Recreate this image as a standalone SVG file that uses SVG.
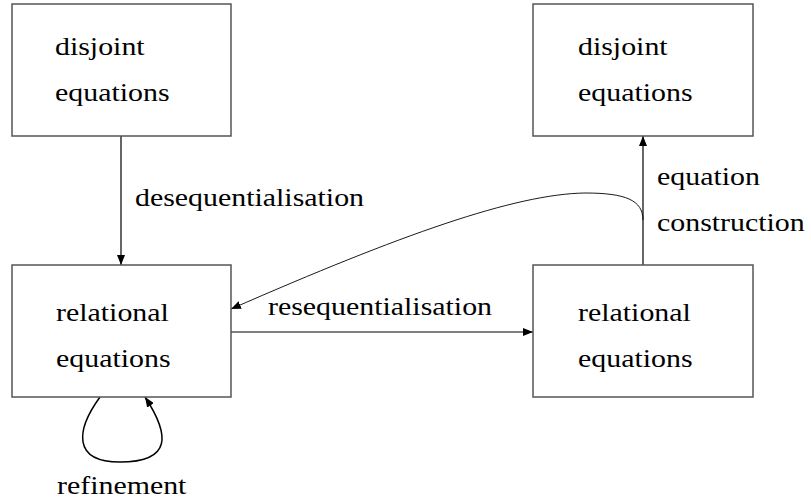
<svg xmlns="http://www.w3.org/2000/svg" width="811" height="500" viewBox="0 0 811 500">
  <style>
    .box { fill: #ffffff; stroke: #555555; stroke-width: 1.5; }
    text { font-family: "Liberation Serif", "Times New Roman", serif; font-size: 26px; fill: #000000; }
    .edge { fill: none; stroke: #000000; stroke-width: 1.2; }
    .thin { fill: none; stroke: #000000; stroke-width: 0.9; }
  </style>
  <defs>
    <marker id="arrow" viewBox="0 0 10 8" refX="10" refY="4" markerWidth="10" markerHeight="8" markerUnits="userSpaceOnUse" orient="auto">
      <path d="M0,0 L10,4 L0,8 Z" fill="#000000"/>
    </marker>
  </defs>

  <rect width="811" height="500" fill="#ffffff"/>

  <!-- connectors -->
  <g id="connectors">
    <!-- desequentialisation -->
    <line class="edge" x1="121" y1="136" x2="121" y2="265" marker-end="url(#arrow)"/>
    <!-- resequentialisation -->
    <line class="edge" x1="231" y1="332" x2="533" y2="332" marker-end="url(#arrow)"/>
    <!-- equation construction -->
    <line class="edge" x1="643" y1="265" x2="643" y2="136" marker-end="url(#arrow)"/>
    <!-- feedback curve back to the left relational box -->
    <path class="thin" d="M643,220 C643,200 625,193 585,193 C515,194 400,235 231,309" marker-end="url(#arrow)"/>
    <!-- refinement self-loop -->
    <path class="edge" style="stroke-width:1.5" d="M100,397 C76,430 72,462 120,462 C172,462 170,435 145,397" marker-end="url(#arrow)"/>
  </g>

  <!-- left column (labels are set slightly wide: scale 1.15 horizontally) -->
  <g id="disjoint-left">
    <rect class="box" x="12" y="4" width="219" height="132"/>
    <text transform="translate(55 55) scale(1.15 1)">disjoint</text>
    <text transform="translate(55 101) scale(1.15 1)">equations</text>
  </g>
  <g id="relational-left">
    <rect class="box" x="12" y="265" width="219" height="132"/>
    <text transform="translate(56 321) scale(1.15 1)">relational</text>
    <text transform="translate(56 367) scale(1.15 1)">equations</text>
  </g>

  <!-- right column -->
  <g id="disjoint-right">
    <rect class="box" x="533" y="4" width="220" height="132"/>
    <text transform="translate(578 55) scale(1.15 1)">disjoint</text>
    <text transform="translate(578 101) scale(1.15 1)">equations</text>
  </g>
  <g id="relational-right">
    <rect class="box" x="533" y="265" width="220" height="132"/>
    <text transform="translate(578 321) scale(1.15 1)">relational</text>
    <text transform="translate(578 367) scale(1.15 1)">equations</text>
  </g>

  <!-- edge labels -->
  <g id="edge-labels">
    <text transform="translate(135 206) scale(1.15 1)">desequentialisation</text>
    <text transform="translate(268 315) scale(1.15 1)">resequentialisation</text>
    <text transform="translate(657 185) scale(1.15 1)">equation</text>
    <text transform="translate(657 231) scale(1.15 1)">construction</text>
    <text transform="translate(57 494) scale(1.15 1)">refinement</text>
  </g>
</svg>
